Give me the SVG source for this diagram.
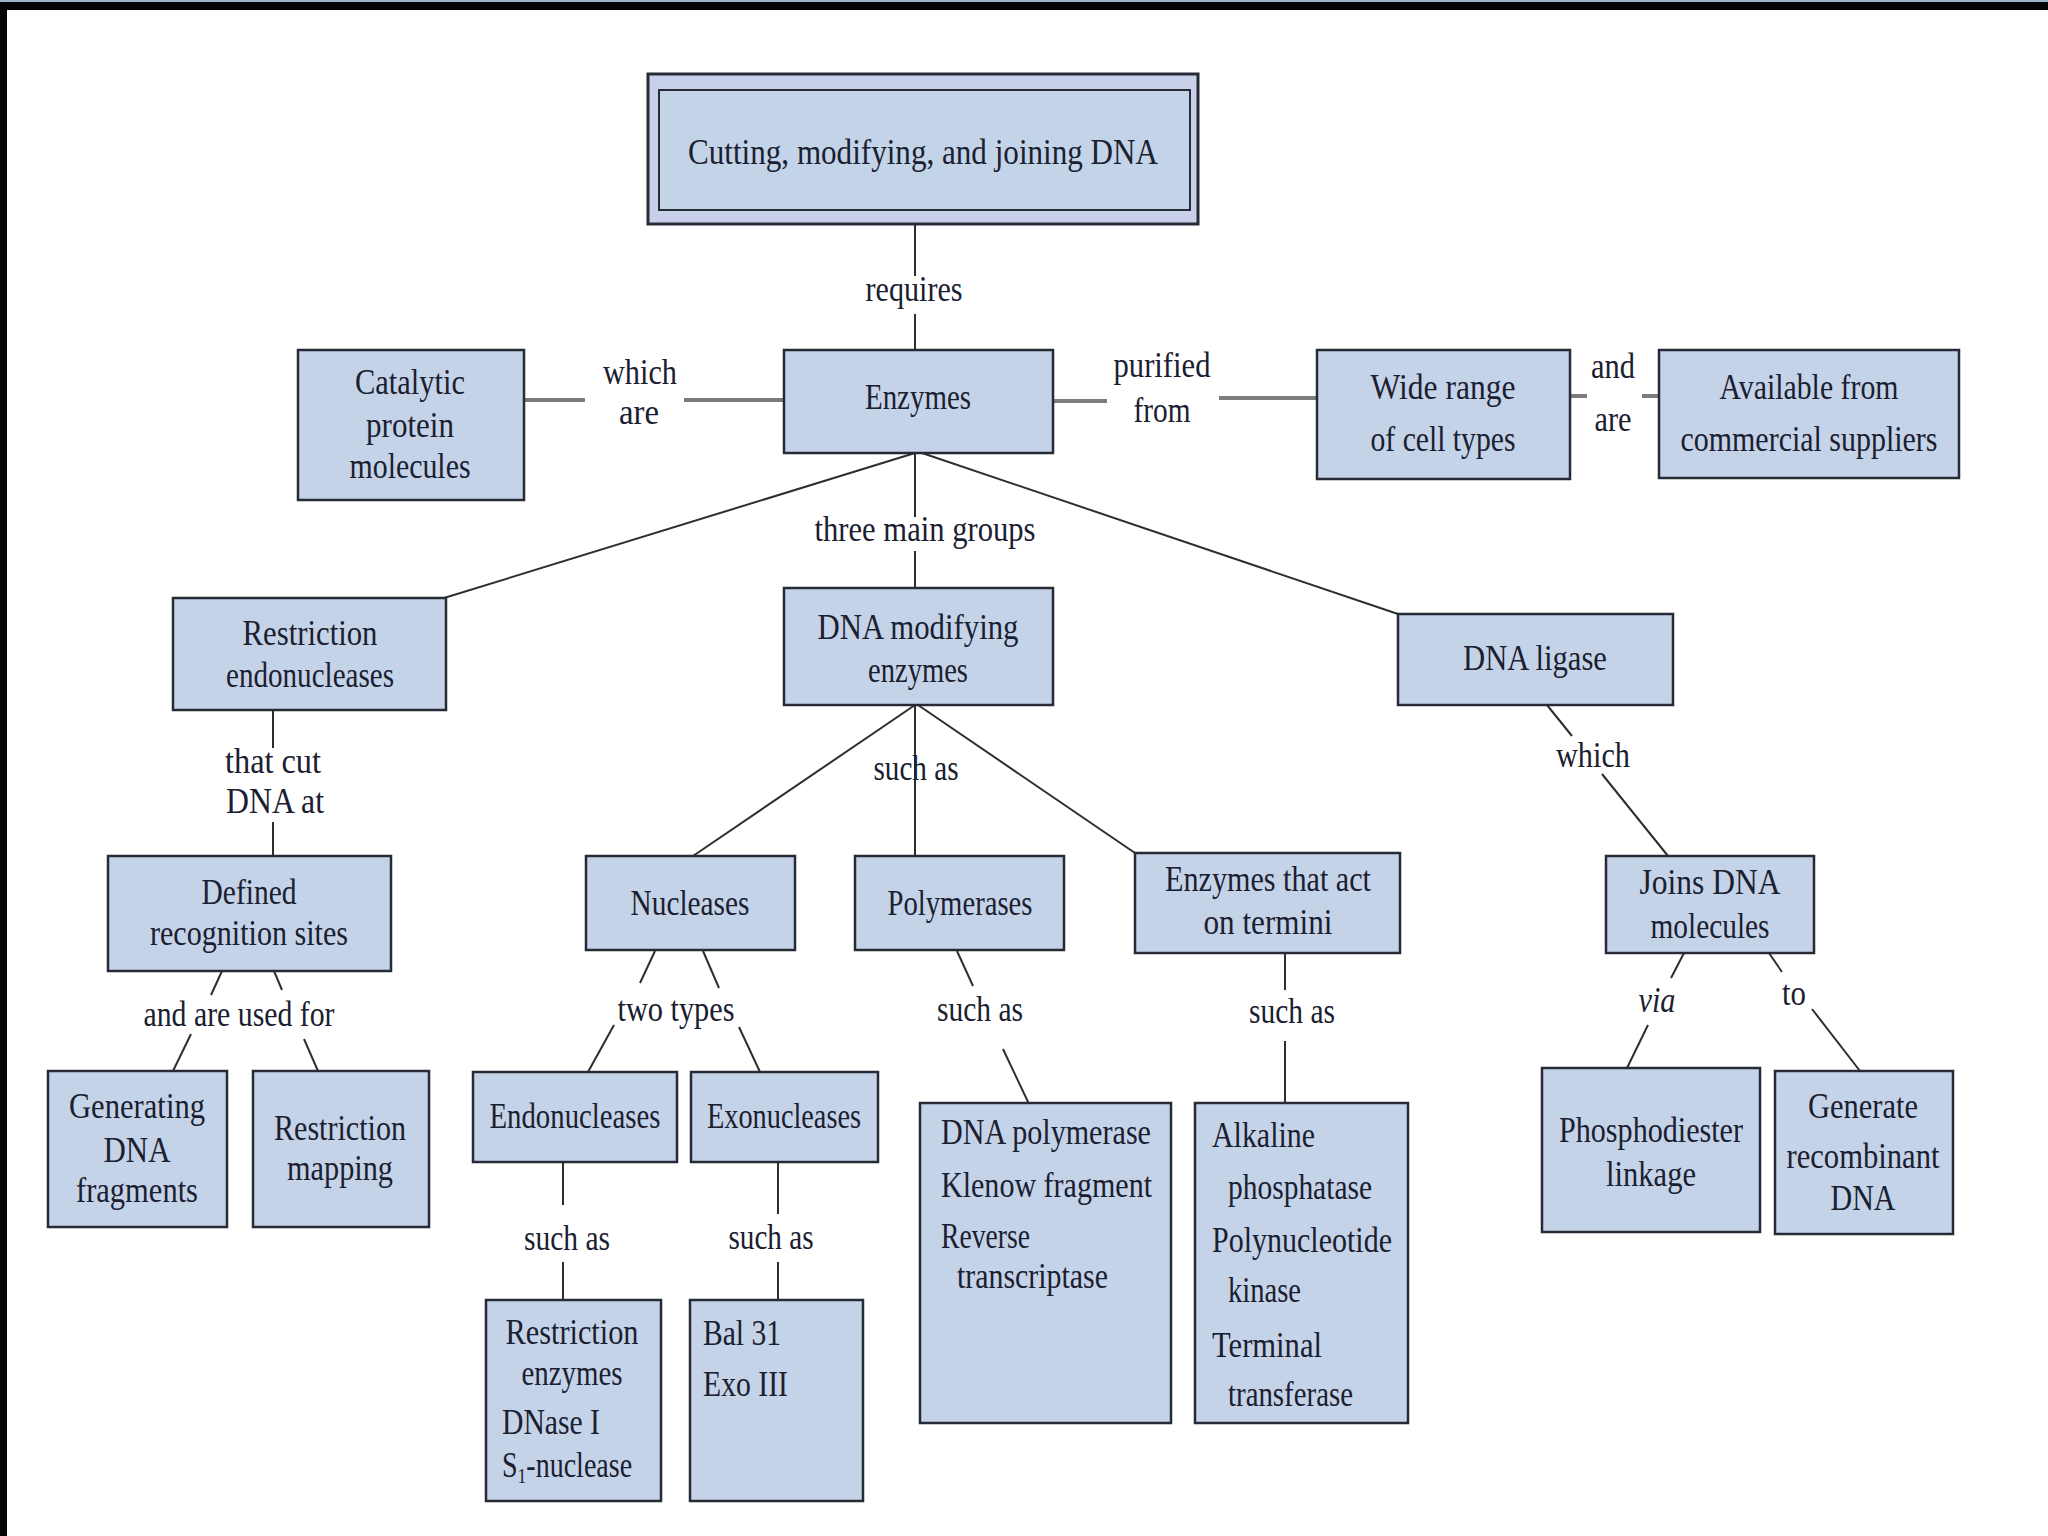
<svg xmlns="http://www.w3.org/2000/svg" width="2048" height="1536" viewBox="0 0 2048 1536">
<style>
.box{fill:#c5d3e9;stroke:#262b36;stroke-width:2.5}
.outer{fill:#c9d0ea;stroke:#262b36;stroke-width:3}
.inner{fill:#c4d4e8;stroke:#262b36;stroke-width:2}
text{font-family:"Liberation Serif","DejaVu Serif",serif;font-size:35px;fill:#1a2030}
.m{text-anchor:middle}
.s{text-anchor:start}
.c{stroke:#2e2e2e;stroke-width:2;fill:none}
.g{stroke:#7d7d7d;stroke-width:4;fill:none}
</style>
<rect x="0" y="0" width="2048" height="1536" fill="#ffffff"/>
<rect x="0" y="0" width="2048" height="2" fill="#9ab5c8"/>
<rect x="0" y="2" width="2048" height="8" fill="#050505"/>
<rect x="0" y="2" width="7" height="1534" fill="#050505"/>

<g id="connectors">
<line class="c" x1="915" y1="224" x2="915" y2="276"/>
<line class="c" x1="915" y1="314" x2="915" y2="350"/>
<line class="g" x1="524" y1="400" x2="585" y2="400"/>
<line class="g" x1="684" y1="400" x2="784" y2="400"/>
<line class="g" x1="1053" y1="401" x2="1107" y2="401"/>
<line class="g" x1="1219" y1="398" x2="1317" y2="398"/>
<line class="g" x1="1570" y1="396" x2="1587" y2="396"/>
<line class="g" x1="1642" y1="396" x2="1659" y2="396"/>
<line class="c" x1="915" y1="453" x2="444" y2="598"/>
<line class="c" x1="922" y1="453" x2="1398" y2="614"/>
<line class="c" x1="915" y1="453" x2="915" y2="517"/>
<line class="c" x1="915" y1="551" x2="915" y2="588"/>
<line class="c" x1="273" y1="710" x2="273" y2="748"/>
<line class="c" x1="273" y1="822" x2="273" y2="856"/>
<line class="c" x1="222" y1="971" x2="211" y2="995"/>
<line class="c" x1="191" y1="1034" x2="173" y2="1071"/>
<line class="c" x1="274" y1="971" x2="282" y2="990"/>
<line class="c" x1="304" y1="1039" x2="318" y2="1071"/>
<line class="c" x1="915" y1="705" x2="693" y2="856"/>
<line class="c" x1="915" y1="705" x2="915" y2="856"/>
<line class="c" x1="918" y1="705" x2="1135" y2="853"/>
<line class="c" x1="655" y1="951" x2="640" y2="983"/>
<line class="c" x1="614" y1="1025" x2="588" y2="1072"/>
<line class="c" x1="703" y1="951" x2="719" y2="988"/>
<line class="c" x1="739" y1="1027" x2="760" y2="1072"/>
<line class="c" x1="957" y1="951" x2="973" y2="986"/>
<line class="c" x1="1003" y1="1049" x2="1029" y2="1104"/>
<line class="c" x1="1285" y1="953" x2="1285" y2="990"/>
<line class="c" x1="1285" y1="1041" x2="1285" y2="1104"/>
<line class="c" x1="1547" y1="705" x2="1572" y2="736"/>
<line class="c" x1="1602" y1="774" x2="1668" y2="856"/>
<line class="c" x1="1684" y1="953" x2="1671" y2="978"/>
<line class="c" x1="1648" y1="1025" x2="1627" y2="1068"/>
<line class="c" x1="1769" y1="953" x2="1782" y2="972"/>
<line class="c" x1="1812" y1="1009" x2="1860" y2="1071"/>
<line class="c" x1="563" y1="1162" x2="563" y2="1205"/>
<line class="c" x1="563" y1="1262" x2="563" y2="1300"/>
<line class="c" x1="778" y1="1162" x2="778" y2="1214"/>
<line class="c" x1="778" y1="1262" x2="778" y2="1300"/>
</g>

<g id="labels">
<text class="m" x="914" y="301" textLength="97" lengthAdjust="spacingAndGlyphs">requires</text>
<text class="m" x="640" y="384" textLength="74" lengthAdjust="spacingAndGlyphs">which</text>
<text class="m" x="639" y="424" textLength="40" lengthAdjust="spacingAndGlyphs">are</text>
<text class="m" x="1162" y="377" textLength="97" lengthAdjust="spacingAndGlyphs">purified</text>
<text class="m" x="1162" y="422" textLength="57" lengthAdjust="spacingAndGlyphs">from</text>
<text class="m" x="1613" y="378" textLength="44" lengthAdjust="spacingAndGlyphs">and</text>
<text class="m" x="1613" y="431" textLength="37" lengthAdjust="spacingAndGlyphs">are</text>
<text class="m" x="925" y="541" textLength="221" lengthAdjust="spacingAndGlyphs">three main groups</text>
<text class="m" x="273" y="773" textLength="96" lengthAdjust="spacingAndGlyphs">that cut</text>
<text class="m" x="275" y="813" textLength="98" lengthAdjust="spacingAndGlyphs">DNA at</text>
<text class="m" x="916" y="780" textLength="85" lengthAdjust="spacingAndGlyphs">such as</text>
<text class="m" x="1593" y="767" textLength="74" lengthAdjust="spacingAndGlyphs">which</text>
<text class="m" x="239" y="1026" textLength="191" lengthAdjust="spacingAndGlyphs">and are used for</text>
<text class="m" x="676" y="1021" textLength="117" lengthAdjust="spacingAndGlyphs">two types</text>
<text class="m" x="980" y="1021" textLength="86" lengthAdjust="spacingAndGlyphs">such as</text>
<text class="m" x="1292" y="1023" textLength="86" lengthAdjust="spacingAndGlyphs">such as</text>
<text class="m" x="1657" y="1012" textLength="37" lengthAdjust="spacingAndGlyphs" font-style="italic">via</text>
<text class="m" x="1794" y="1005" textLength="24" lengthAdjust="spacingAndGlyphs">to</text>
<text class="m" x="567" y="1250" textLength="86" lengthAdjust="spacingAndGlyphs">such as</text>
<text class="m" x="771" y="1249" textLength="85" lengthAdjust="spacingAndGlyphs">such as</text>
</g>

<g id="n-top">
<rect class="outer" x="648" y="74" width="550" height="150"/>
<rect class="inner" x="659" y="90" width="531" height="120"/>
<text class="m" x="923" y="164" textLength="470" lengthAdjust="spacingAndGlyphs">Cutting, modifying, and joining DNA</text>
</g>
<g id="n-enzymes">
<rect class="box" x="784" y="350" width="269" height="103"/>
<text class="m" x="918" y="409" textLength="106" lengthAdjust="spacingAndGlyphs">Enzymes</text>
</g>
<g id="n-catalytic">
<rect class="box" x="298" y="350" width="226" height="150"/>
<text class="m" x="410" y="394" textLength="110" lengthAdjust="spacingAndGlyphs">Catalytic</text>
<text class="m" x="410" y="437" textLength="88" lengthAdjust="spacingAndGlyphs">protein</text>
<text class="m" x="410" y="478" textLength="121" lengthAdjust="spacingAndGlyphs">molecules</text>
</g>
<g id="n-wide">
<rect class="box" x="1317" y="350" width="253" height="129"/>
<text class="m" x="1443" y="399" textLength="145" lengthAdjust="spacingAndGlyphs">Wide range</text>
<text class="m" x="1443" y="451" textLength="145" lengthAdjust="spacingAndGlyphs">of cell types</text>
</g>
<g id="n-available">
<rect class="box" x="1659" y="350" width="300" height="128"/>
<text class="m" x="1809" y="399" textLength="179" lengthAdjust="spacingAndGlyphs">Available from</text>
<text class="m" x="1809" y="451" textLength="257" lengthAdjust="spacingAndGlyphs">commercial suppliers</text>
</g>
<g id="n-restriction">
<rect class="box" x="173" y="598" width="273" height="112"/>
<text class="m" x="310" y="645" textLength="135" lengthAdjust="spacingAndGlyphs">Restriction</text>
<text class="m" x="310" y="687" textLength="168" lengthAdjust="spacingAndGlyphs">endonucleases</text>
</g>
<g id="n-modifying">
<rect class="box" x="784" y="588" width="269" height="117"/>
<text class="m" x="918" y="639" textLength="201" lengthAdjust="spacingAndGlyphs">DNA modifying</text>
<text class="m" x="918" y="682" textLength="100" lengthAdjust="spacingAndGlyphs">enzymes</text>
</g>
<g id="n-ligase">
<rect class="box" x="1398" y="614" width="275" height="91"/>
<text class="m" x="1535" y="670" textLength="144" lengthAdjust="spacingAndGlyphs">DNA ligase</text>
</g>
<g id="n-defined">
<rect class="box" x="108" y="856" width="283" height="115"/>
<text class="m" x="249" y="904" textLength="95" lengthAdjust="spacingAndGlyphs">Defined</text>
<text class="m" x="249" y="945" textLength="198" lengthAdjust="spacingAndGlyphs">recognition sites</text>
</g>
<g id="n-nucleases">
<rect class="box" x="586" y="856" width="209" height="94"/>
<text class="m" x="690" y="915" textLength="119" lengthAdjust="spacingAndGlyphs">Nucleases</text>
</g>
<g id="n-polymerases">
<rect class="box" x="855" y="856" width="209" height="94"/>
<text class="m" x="960" y="915" textLength="145" lengthAdjust="spacingAndGlyphs">Polymerases</text>
</g>
<g id="n-termini">
<rect class="box" x="1135" y="853" width="265" height="100"/>
<text class="m" x="1268" y="891" textLength="206" lengthAdjust="spacingAndGlyphs">Enzymes that act</text>
<text class="m" x="1268" y="934" textLength="129" lengthAdjust="spacingAndGlyphs">on termini</text>
</g>
<g id="n-joins">
<rect class="box" x="1606" y="856" width="208" height="97"/>
<text class="m" x="1710" y="894" textLength="141" lengthAdjust="spacingAndGlyphs">Joins DNA</text>
<text class="m" x="1710" y="938" textLength="119" lengthAdjust="spacingAndGlyphs">molecules</text>
</g>
<g id="n-generating">
<rect class="box" x="48" y="1071" width="179" height="156"/>
<text class="m" x="137" y="1118" textLength="136" lengthAdjust="spacingAndGlyphs">Generating</text>
<text class="m" x="137" y="1162" textLength="67" lengthAdjust="spacingAndGlyphs">DNA</text>
<text class="m" x="137" y="1202" textLength="122" lengthAdjust="spacingAndGlyphs">fragments</text>
</g>
<g id="n-mapping">
<rect class="box" x="253" y="1071" width="176" height="156"/>
<text class="m" x="340" y="1140" textLength="132" lengthAdjust="spacingAndGlyphs">Restriction</text>
<text class="m" x="340" y="1180" textLength="106" lengthAdjust="spacingAndGlyphs">mapping</text>
</g>
<g id="n-endo">
<rect class="box" x="473" y="1072" width="204" height="90"/>
<text class="m" x="575" y="1128" textLength="171" lengthAdjust="spacingAndGlyphs">Endonucleases</text>
</g>
<g id="n-exo">
<rect class="box" x="691" y="1072" width="187" height="90"/>
<text class="m" x="784" y="1128" textLength="154" lengthAdjust="spacingAndGlyphs">Exonucleases</text>
</g>
<g id="n-renzymes">
<rect class="box" x="486" y="1300" width="175" height="201"/>
<text class="m" x="572" y="1344" textLength="133" lengthAdjust="spacingAndGlyphs">Restriction</text>
<text class="m" x="572" y="1385" textLength="101" lengthAdjust="spacingAndGlyphs">enzymes</text>
<text class="s" x="502" y="1434" textLength="98" lengthAdjust="spacingAndGlyphs">DNase I</text>
<text class="s" transform="translate(502,1477) scale(0.8,1)" x="0" y="0">S<tspan font-size="22" dy="6">1</tspan><tspan dy="-6">-nuclease</tspan></text>
</g>
<g id="n-bal">
<rect class="box" x="690" y="1300" width="173" height="201"/>
<text class="s" x="703" y="1345" textLength="78" lengthAdjust="spacingAndGlyphs">Bal 31</text>
<text class="s" x="703" y="1396" textLength="85" lengthAdjust="spacingAndGlyphs">Exo III</text>
</g>
<g id="n-dnapol">
<rect class="box" x="920" y="1103" width="251" height="320"/>
<text class="s" x="941" y="1144" textLength="210" lengthAdjust="spacingAndGlyphs">DNA polymerase</text>
<text class="s" x="941" y="1197" textLength="211" lengthAdjust="spacingAndGlyphs">Klenow fragment</text>
<text class="s" x="941" y="1248" textLength="89" lengthAdjust="spacingAndGlyphs">Reverse</text>
<text class="s" x="957" y="1288" textLength="151" lengthAdjust="spacingAndGlyphs">transcriptase</text>
</g>
<g id="n-alkaline">
<rect class="box" x="1195" y="1103" width="213" height="320"/>
<text class="s" x="1212" y="1147" textLength="103" lengthAdjust="spacingAndGlyphs">Alkaline</text>
<text class="s" x="1228" y="1199" textLength="144" lengthAdjust="spacingAndGlyphs">phosphatase</text>
<text class="s" x="1212" y="1252" textLength="180" lengthAdjust="spacingAndGlyphs">Polynucleotide</text>
<text class="s" x="1228" y="1302" textLength="73" lengthAdjust="spacingAndGlyphs">kinase</text>
<text class="s" x="1212" y="1357" textLength="110" lengthAdjust="spacingAndGlyphs">Terminal</text>
<text class="s" x="1228" y="1406" textLength="125" lengthAdjust="spacingAndGlyphs">transferase</text>
</g>
<g id="n-phospho">
<rect class="box" x="1542" y="1068" width="218" height="164"/>
<text class="m" x="1651" y="1142" textLength="184" lengthAdjust="spacingAndGlyphs">Phosphodiester</text>
<text class="m" x="1651" y="1186" textLength="90" lengthAdjust="spacingAndGlyphs">linkage</text>
</g>
<g id="n-generate">
<rect class="box" x="1775" y="1071" width="178" height="163"/>
<text class="m" x="1863" y="1118" textLength="110" lengthAdjust="spacingAndGlyphs">Generate</text>
<text class="m" x="1863" y="1168" textLength="153" lengthAdjust="spacingAndGlyphs">recombinant</text>
<text class="m" x="1863" y="1210" textLength="65" lengthAdjust="spacingAndGlyphs">DNA</text>
</g>
</svg>
